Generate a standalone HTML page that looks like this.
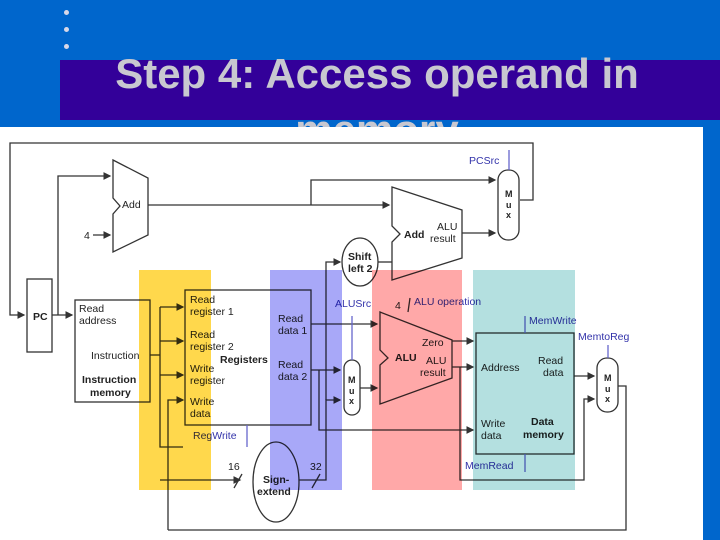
<!DOCTYPE html>
<html><head><meta charset="utf-8"><style>
html,body{margin:0;padding:0}
body{width:720px;height:540px;overflow:hidden;background:#0066cc;position:relative;font-family:"Liberation Sans",sans-serif}
.band{position:absolute;left:60px;top:60px;width:660px;height:60px;background:#330099}
.title{position:absolute;left:60px;top:46px;width:634px;text-align:center;color:#c8c8d0;font-weight:bold;font-size:42px;line-height:56px;white-space:nowrap}
.dot{position:absolute;left:64px;width:5px;height:5px;border-radius:50%;background:#d8d8e8}
.panel{position:absolute;left:0;top:127px;width:703px;height:413px;background:#fff}
svg{position:absolute;left:0;top:0}
</style></head><body>
<div class="dot" style="top:10px"></div><div class="dot" style="top:27px"></div><div class="dot" style="top:44px"></div>
<div class="band"></div>
<div class="title">Step 4: Access operand in<br>memory</div>
<div class="panel"></div>
<svg width="720" height="540" viewBox="0 0 720 540" font-family="Liberation Sans, sans-serif" font-size="10.5">
<defs><marker id="a" markerWidth="6" markerHeight="6" refX="5" refY="3" orient="auto"><path d="M0,0L6,3L0,6z" fill="#333"/></marker></defs>
<g stroke="#333" stroke-width="1.3" fill="none">
<polyline points="520,200 533,200 533,143 10,143 10,315 24,315" marker-end="url(#a)"/>
<rect x="27" y="279" width="25" height="73" fill="#fff"/>
<polyline points="52,315 72,315" marker-end="url(#a)"/>
<polyline points="58,315 58,176 110,176" marker-end="url(#a)"/>
<line x1="93" y1="235" x2="110" y2="235" marker-end="url(#a)"/>
<path d="M113,160 L148,178 L148,235 L113,252 L113,214 L120,206 L113,198 Z" fill="#fff"/>
<polyline points="148,205 389,205" marker-end="url(#a)"/>
<polyline points="311,205 311,180 495,180" marker-end="url(#a)"/>
<path d="M392,187 L462,210 L462,258 L392,280 L392,242 L400,234 L392,226 Z" fill="#fff"/>
<line x1="462" y1="233" x2="495" y2="233" marker-end="url(#a)"/>
<rect x="498" y="170" width="21" height="70" rx="10" fill="#fff"/>
<line x1="509" y1="150" x2="509" y2="170" stroke="#66c"/>
<ellipse cx="360" cy="262" rx="18" ry="24" fill="#fff"/>
<line x1="378" y1="262" x2="392" y2="262"/>
<polyline points="326,400 326,262 340,262" marker-end="url(#a)"/>
<rect x="75" y="300" width="75" height="102" fill="#fff"/>
<polyline points="150,355 160,355"/>
<polyline points="160,307 160,447 183,447"/>
<polyline points="160,307 183,307" marker-end="url(#a)"/>
<polyline points="160,341 183,341" marker-end="url(#a)"/>
<polyline points="160,375 183,375" marker-end="url(#a)"/>
<polyline points="160,480 240,480" marker-end="url(#a)"/>
<polyline points="168,530 168,400 183,400" marker-end="url(#a)"/>
<rect x="185" y="290" width="126" height="135" fill="#fff"/>
<line x1="247" y1="425" x2="247" y2="447" stroke="#66c"/>
<ellipse cx="276" cy="482" rx="23" ry="40" fill="#fff"/>
<polyline points="299,480 326,480 326,400 340,400" marker-end="url(#a)"/>
<line x1="234" y1="488" x2="242" y2="474"/><line x1="312" y1="488" x2="320" y2="474"/>
<polyline points="311,324 377,324" marker-end="url(#a)"/>
<polyline points="311,370 340,370" marker-end="url(#a)"/>
<polyline points="319,370 319,430 473,430" marker-end="url(#a)"/>
<rect x="344" y="360" width="16" height="55" rx="8" fill="#fff"/>
<line x1="352" y1="316" x2="352" y2="360" stroke="#66c"/>
<polyline points="360,388 377,388" marker-end="url(#a)"/>
<path d="M380,312 L452,340 L452,378 L380,404 L380,365 L388,358 L380,350 Z" fill="#fff"/>
<line x1="408" y1="312" x2="410" y2="298"/>
<line x1="452" y1="341" x2="473" y2="341" marker-end="url(#a)"/>
<line x1="452" y1="367" x2="473" y2="367" marker-end="url(#a)"/>
<polyline points="460,367 460,480 584,480 584,399 594,399" marker-end="url(#a)"/>
<rect x="476" y="333" width="98" height="121" fill="#fff"/>
<line x1="525" y1="316" x2="525" y2="333" stroke="#66c"/>
<line x1="525" y1="454" x2="525" y2="472" stroke="#66c"/>
<line x1="574" y1="376" x2="594" y2="376" marker-end="url(#a)"/>
<rect x="597" y="358" width="21" height="54" rx="10" fill="#fff"/>
<line x1="608" y1="345" x2="608" y2="358" stroke="#66c"/>
<polyline points="618,386 626,386 626,530 168,530"/>
</g>
<g fill="#222">
<text x="33" y="320" font-weight="bold">PC</text>
<text x="122" y="208">Add</text><text x="84" y="239">4</text>
<text x="79" y="312">Read</text><text x="79" y="324">address</text>
<text x="91" y="359">Instruction</text>
<text x="82" y="383" font-weight="bold">Instruction</text><text x="90" y="396" font-weight="bold">memory</text>
<text x="190" y="303">Read</text><text x="190" y="315">register 1</text>
<text x="190" y="338">Read</text><text x="190" y="350">register 2</text>
<text x="190" y="372">Write</text><text x="190" y="384">register</text>
<text x="190" y="405">Write</text><text x="190" y="417">data</text>
<text x="220" y="363" font-weight="bold">Registers</text>
<text x="278" y="322">Read</text><text x="278" y="334">data 1</text>
<text x="278" y="368">Read</text><text x="278" y="380">data 2</text>
<text x="263" y="483" font-weight="bold">Sign-</text><text x="257" y="495" font-weight="bold">extend</text>
<text x="228" y="470">16</text><text x="310" y="470">32</text>
<text x="348" y="260" font-weight="bold">Shift</text><text x="348" y="272" font-weight="bold">left 2</text>
<text x="404" y="238" font-weight="bold">Add</text><text x="437" y="230">ALU</text><text x="430" y="242">result</text>
<text x="505" y="197" font-weight="bold" font-size="9">M</text><text x="506" y="208" font-weight="bold" font-size="9">u</text><text x="506" y="218" font-weight="bold" font-size="9">x</text>
<text x="348" y="383" font-weight="bold" font-size="9">M</text><text x="349" y="394" font-weight="bold" font-size="9">u</text><text x="349" y="404" font-weight="bold" font-size="9">x</text>
<text x="604" y="381" font-weight="bold" font-size="9">M</text><text x="605" y="392" font-weight="bold" font-size="9">u</text><text x="605" y="402" font-weight="bold" font-size="9">x</text>
<text x="395" y="361" font-weight="bold">ALU</text><text x="422" y="346">Zero</text><text x="426" y="364">ALU</text><text x="420" y="376">result</text>
<text x="395" y="309">4</text>
<text x="481" y="371">Address</text><text x="538" y="364">Read</text><text x="543" y="376">data</text>
<text x="481" y="427">Write</text><text x="481" y="439">data</text>
<text x="531" y="425" font-weight="bold">Data</text><text x="523" y="438" font-weight="bold">memory</text>
</g>
<g fill="#3333aa">
<text x="469" y="164">PCSrc</text><text x="335" y="307">ALUSrc</text><text x="414" y="305">ALU operation</text>
<text x="529" y="324">MemWrite</text><text x="578" y="340">MemtoReg</text>
<text x="465" y="469">MemRead</text><text x="193" y="439">RegWrite</text>
</g>
<g style="mix-blend-mode:multiply">
<rect x="139" y="270" width="72" height="220" fill="#ffd84c"/>
<rect x="270" y="270" width="72" height="220" fill="#a8a8f8"/>
<rect x="372" y="270" width="90" height="220" fill="#ffa8a8"/>
<rect x="473" y="270" width="102" height="220" fill="#b4e0e0"/>
</g>
</svg>
</body></html>
